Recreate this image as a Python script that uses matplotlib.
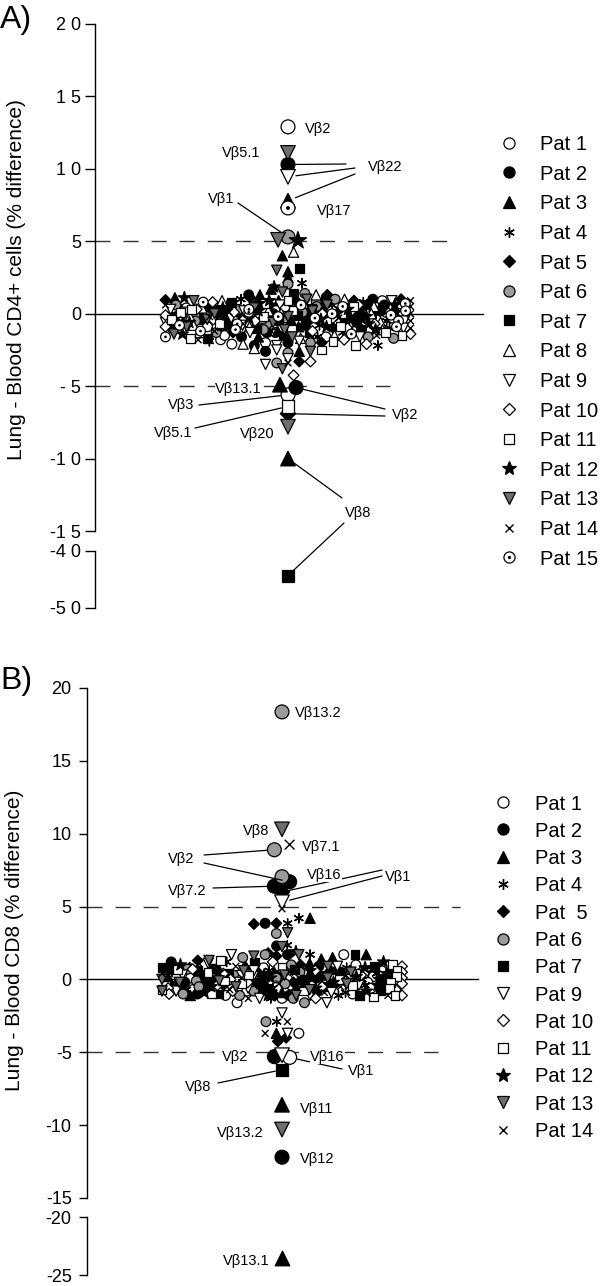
import numpy as np
import matplotlib
matplotlib.use('Agg')
import matplotlib.pyplot as plt
from matplotlib.lines import Line2D

plt.rcParams['font.family'] = ['Liberation Sans', 'DejaVu Sans']

W, H = 600, 1286

# ---- panel A: Lung - Blood CD4+ (% difference), one list per patient
cd4_p1 = [12.9, -5.6, 0.9, 0.5, 0.1, -0.3, -0.7, -1.1, -1.6, -2.0, -2.1, 0.7, -0.5, 0.3, -1.3, -1.8, -0.1, -0.9, 0.4, -1.5]
cd4_p2 = [10.3, -5.1, 1.0, 0.6, 0.2, -0.2, -0.6, -1.1, -2.0, -2.2, -2.6, 0.8, 0.0, -0.8, -1.3, 1.3, 0.4, -0.4, -1.6, -1.0]
cd4_p3 = [7.8, 4.0, 2.9, 2.5, 1.7, 1.3, -4.9, -10.0, -2.6, 0.9, 0.5, 0.1, -0.4, -0.9, -1.2, -1.6, 0.7, -0.2, 0.3, 1.1]
cd4_p4 = [2.1, -2.2, 0.8, 0.4, 0.0, -0.5, -1.0, -1.3, -1.6, 0.6, 0.2, -0.3, -0.8, 1.0, -1.2, 0.3, -0.1, 0.5, -0.6, -1.9]
cd4_p5 = [1.3, 1.0, 0.9, -6.9, -3.3, -2.0, 0.8, 0.5, 0.2, -0.2, -0.5, -1.0, 1.1, 0.6, 0.0, -0.4, -0.8, 0.3, -1.3, 0.95]
cd4_p6 = [5.3, 2.05, 1.4, 1.0, 0.8, -1.7, -1.6, -2.0, -2.7, -3.4, 0.5, 0.1, -0.3, -0.7, -1.1, 0.3, -0.1, -0.5, 0.6, -1.3]
cd4_p7 = [-44.3, 3.1, 1.4, 1.0, 0.6, 0.1, -0.3, -0.7, -1.3, -1.5, 0.4, -0.1, -0.5, 0.8, -1.0, 0.2, -0.8, 0.5, -0.2, -1.7]
cd4_p8 = [4.25, 1.3, 1.0, 0.5, 0.0, -0.6, -1.1, -1.5, -1.7, -2.1, -2.4, 0.7, 0.2, -0.3, -0.9, 0.9, -0.2, 0.4, -0.8, -1.3]
cd4_p9 = [9.45, 0.9, 0.4, 0.0, -0.5, -1.0, -1.6, -1.9, -2.2, -2.5, -3.1, -3.5, 0.6, 0.2, -0.3, -0.8, 0.1, -1.3, 0.3, -0.6]
cd4_p10 = [-3.3, -4.25, -2.1, -1.8, -1.4, -0.7, 0.2, 0.6, -0.3, 0.0, -1.0, 0.4, -1.2, -0.5, 0.1, 0.8, -0.4, 0.3, -0.1, -0.9]
cd4_p11 = [-6.4, -2.5, -2.2, -1.9, -1.5, -1.3, 0.9, 0.5, 0.0, -0.5, -0.9, 0.2, -0.2, -1.1, 0.7, -0.7, 0.1, 0.3, -0.4, -1.7]
cd4_p12 = [5.05, 1.85, 0.6, 0.1, -0.2, -0.7, -1.1, 0.3, 0.0, -0.4, 0.9, -0.9, 0.2, -0.3, 0.7, -0.1, 0.4, -0.6, 1.1, -1.4]
cd4_p13 = [11.1, 5.1, 3.0, 1.5, 1.0, -3.8, -2.6, -7.8, -1.6, 0.6, 0.2, -0.2, -0.6, -1.1, 0.4, 0.0, -0.4, 0.9, -0.9, -1.4]
cd4_p14 = [0.9, 0.5, 0.0, -0.5, -1.0, -1.5, -3.4, -0.3, 0.3, -0.8, 0.7, -0.1, 0.2, -0.7, 0.1, -0.2, -1.2, -0.4, 0.6, -1.8]
cd4_p15 = [7.3, 0.7, 0.2, -0.1, -0.5, -0.9, -1.4, 0.5, 0.0, -0.3, 0.6, -0.2, 0.1, -0.7, 0.3, -1.1, 0.8, -1.2, -0.8, -1.6]

cd4_pats = [1, 2, 3, 4, 5, 6, 7, 8, 9, 10, 11, 12, 13, 14, 15]
cd4_names = ['Pat 1', 'Pat 2', 'Pat 3', 'Pat 4', 'Pat 5', 'Pat 6', 'Pat 7', 'Pat 8',
             'Pat 9', 'Pat 10', 'Pat 11', 'Pat 12', 'Pat 13', 'Pat 14', 'Pat 15']
cd4_values = [cd4_p1, cd4_p2, cd4_p3, cd4_p4, cd4_p5, cd4_p6, cd4_p7, cd4_p8,
              cd4_p9, cd4_p10, cd4_p11, cd4_p12, cd4_p13, cd4_p14, cd4_p15]

# ---- panel B: Lung - Blood CD8 (% difference)
cd8_p1 = [-5.35, -3.7, 1.7, 1.0, 0.6, 0.2, -0.2, -0.6, -1.0, -1.3, 0.4, 0.0, -0.4, 0.8, -0.8, 0.3, -1.1, 0.1, -0.7, -1.6]
cd8_p2 = [6.7, 6.4, 3.85, 2.3, 1.7, -5.3, -12.2, 0.9, 0.5, 0.1, -0.3, -0.8, -1.1, 0.3, -0.1, -0.5, 0.7, -0.2, 1.2, -1.0]
cd8_p3 = [4.2, 1.7, 1.5, 1.4, -3.7, -8.6, -23.5, 1.1, 0.7, 0.3, 0.0, -0.4, -0.9, 0.5, 1.0, -0.2, 0.9, -0.6, 0.2, -1.1]
cd8_p4 = [4.2, 3.85, 2.35, 1.7, -2.9, 0.8, 0.4, 0.0, -0.4, -0.9, -1.1, 0.2, -0.2, 0.6, -0.6, 1.2, -1.3, 0.3, -0.7, 0.5]
cd8_p5 = [6.0, 3.85, 3.8, 1.8, 1.6, -4.0, -4.25, 1.0, 0.6, 0.2, -0.2, -0.7, -1.1, -0.9, 0.4, 0.0, -0.4, 0.8, -0.5, 1.3]
cd8_p6 = [18.36, 8.9, 7.05, 3.15, 1.7, 1.5, -2.9, -1.6, -1.3, 1.0, 0.5, 0.1, -0.3, -0.8, -1.1, 0.3, -0.1, -0.5, 0.7, -1.0]
cd8_p7 = [-6.2, 1.7, 0.9, 0.5, 0.1, -0.3, -0.8, -1.1, 0.3, 0.0, -0.5, 0.7, -0.2, 1.2, -0.6, 0.4, -1.0, 0.6, -0.4, 0.8]
cd8_p9 = [5.3, -5.2, -3.7, -2.3, -1.6, 1.7, 0.9, 0.4, 0.0, -0.4, -0.9, -1.1, 0.2, -0.2, 0.6, -0.6, 1.1, -1.3, 0.3, -0.8]
cd8_p10 = [0.9, 0.5, 0.1, -0.3, -0.7, -1.1, -1.3, 0.3, -0.1, 0.6, -0.5, 1.2, -0.2, 0.0, -0.8, 0.4, -0.4, 0.7, -0.6, -1.0]
cd8_p11 = [1.0, 0.6, 0.2, -0.2, -0.6, -1.1, -1.2, 0.4, 0.0, -0.4, 0.8, -0.8, 1.3, -0.1, 0.3, -0.3, 0.5, -1.0, 0.7, -0.7]
cd8_p12 = [1.9, 1.2, 0.8, 0.4, 0.0, -0.4, -0.8, 0.2, -0.2, 0.6, -0.6, 0.1, -1.1, 0.3, -0.3, 0.5, -0.5, 1.0, -0.9, 0.7]
cd8_p13 = [10.3, 3.2, 2.25, 1.7, 1.6, -10.3, 0.9, 0.5, 0.1, -0.3, -0.7, -1.1, 0.3, -0.1, 0.6, -0.5, 1.3, -0.2, 0.0, -0.8]
cd8_p14 = [9.25, 4.85, -2.9, -2.9, -3.7, -1.1, 0.7, 0.3, -0.1, -0.5, -0.9, 0.5, 0.1, -0.3, 0.9, -0.7, 1.1, -0.2, -1.3, 0.4]

cd8_pats = [1, 2, 3, 4, 5, 6, 7, 9, 10, 11, 12, 13, 14]
cd8_names = ['Pat 1', 'Pat 2', 'Pat 3', 'Pat 4', 'Pat  5', 'Pat 6', 'Pat 7',
             'Pat 9', 'Pat 10', 'Pat 11', 'Pat 12', 'Pat 13', 'Pat 14']
cd8_values = [cd8_p1, cd8_p2, cd8_p3, cd8_p4, cd8_p5, cd8_p6, cd8_p7,
              cd8_p9, cd8_p10, cd8_p11, cd8_p12, cd8_p13, cd8_p14]

# labelled Vbeta families: (text, text x/y in px, [(patient, value, line start px)])
cd4_notes = [
    ('Vβ2', 305, 128, []),
    ('Vβ5.1', 222, 152, []),
    ('Vβ22', 368, 166, [(2, 10.3, (346, 164)), (9, 9.45, (355, 168)), (3, 7.8, (355, 174))]),
    ('Vβ17', 317, 209, []),
    ('Vβ1', 208, 197, [(6, 5.3, (238, 203))]),
    ('Vβ13.1', 215, 387, []),
    ('Vβ3', 168, 404, [(1, -5.6, (199, 405))]),
    ('Vβ5.1', 154, 432, [(11, -6.4, (195, 428))]),
    ('Vβ20', 240, 433, []),
    ('Vβ2', 392, 413, [(2, -5.1, (385, 409)), (5, -6.9, (385, 416))]),
    ('Vβ8', 345, 511, [(3, -10.0, (342, 498)), (7, -44.3, (344, 523))]),
]
cd8_notes = [
    ('Vβ13.2', 295, 712, []),
    ('Vβ8', 243, 829, []),
    ('Vβ7.1', 302, 845, []),
    ('Vβ2', 168, 858, [(6, 8.9, (204, 855)), (2, 6.7, (204, 863))]),
    ('Vβ7.2', 168, 889, [(2, 6.4, (213, 888))]),
    ('Vβ16', 307, 873, []),
    ('Vβ1', 385, 875, [(5, 6.0, (382, 870)), (9, 5.3, (382, 876))]),
    ('Vβ2', 222, 1056, []),
    ('Vβ16', 310, 1055, []),
    ('Vβ1', 348, 1069, [(1, -5.35, (342, 1069))]),
    ('Vβ8', 185, 1085, [(7, -6.2, (218, 1083))]),
    ('Vβ11', 300, 1108, []),
    ('Vβ13.2', 217, 1132, []),
    ('Vβ12', 300, 1157, []),
    ('Vβ13.1', 223, 1260, []),
]

GREY6 = '#9b9b9b'
GREY13 = '#6e6e6e'
# marker, face colour, size factor
STYLE = {
    1: ('o', 'white', 1.0), 2: ('o', 'black', 1.0), 3: ('^', 'black', 1.05),
    4: ((6, 2, 0), None, 0.95), 5: ('D', 'black', 0.78), 6: ('o', GREY6, 1.0),
    7: ('s', 'black', 0.9), 8: ('^', 'white', 1.05), 9: ('v', 'white', 1.05),
    10: ('D', 'white', 0.78), 11: ('s', 'white', 0.9), 12: ('*', 'black', 1.3),
    13: ('v', GREY13, 1.05), 14: ('x', None, 0.7), 15: ('o', 'white', 1.0),
}
SMALL, BIG = 7.0, 10.0


def rect(left, top, width, height):
    return [left / W, 1 - (top + height) / H, width / W, height / H]


def columns(vals, diam, ranks, binh=0.5, maxw=250, gap=1.1):
    # column scatter: values in one bin are spread side by side,
    # squeezed when a row would get wider than maxw
    vals = np.asarray(vals, float)
    bins = np.round(vals / binh).astype(int)
    xs = np.zeros(len(vals))
    for b in np.unique(bins):
        idx = sorted(np.where(bins == b)[0], key=lambda i: ranks[i], reverse=True)
        n = len(idx)
        if n < 2:
            continue
        step = min(max(diam[i] for i in idx) * gap, maxw / (n - 1))
        for k, i in enumerate(idx):
            xs[i] = (k - (n - 1) / 2) * step
    return xs


def style_axis(ax, ticks, labels, ylim, tlen, tpad):
    ax.set_ylim(*ylim)
    for s in ['top', 'right', 'bottom']:
        ax.spines[s].set_visible(False)
    ax.spines['left'].set_linewidth(1.0)
    ax.set_xticks([])
    ax.set_yticks(ticks)
    ax.set_yticklabels(labels, fontsize=13)
    ax.tick_params(axis='y', length=tlen, width=1.0, pad=tpad)
    ax.patch.set_visible(False)


def panel(ax, ax_low, pats, values, split, centre, maxw, notes):
    flat = []
    for p, vals in zip(pats, values):
        for j, v in enumerate(vals):
            ms = (BIG if abs(v) >= 4.9 else SMALL) * STYLE[p][2]
            flat.append((p, v, ms, (j, p)))
    main = [f for f in flat if f[1] > split]
    xs = columns([f[1] for f in main], [f[2] * 100 / 72 for f in main],
                 [f[3] for f in main], maxw=maxw)
    where = {}
    for f, x in zip(main, xs):
        where[(f[0], f[1])] = (ax, centre + x, f[1], f[2])
    for f in flat:
        if f[1] <= split:
            where[(f[0], f[1])] = (ax_low, centre, f[1], f[2])

    for p in pats:
        mk, fc, _ = STYLE[p]
        for a in (ax, ax_low):
            pts = [w for k, w in where.items() if k[0] == p and w[0] is a]
            if not pts:
                continue
            x = [w[1] for w in pts]
            y = [w[2] for w in pts]
            s = [w[3] ** 2 for w in pts]
            if fc is None:
                a.scatter(x, y, s=s, marker=mk, color='black', linewidths=1.0, zorder=3, clip_on=False)
            else:
                a.scatter(x, y, s=s, marker=mk, facecolors=fc, edgecolors='black',
                          linewidths=0.9, zorder=3, clip_on=False)
            if p == 15:
                a.scatter(x, y, s=[(w[3] * 0.28) ** 2 for w in pts], marker='o',
                          color='black', linewidths=0, zorder=4, clip_on=False)

    for text, tx, ty, targets in notes:
        fig.text(tx / W, 1 - (ty + 1.5) / H, text, ha='left', va='center', fontsize=10.5,
                 bbox=dict(fc='white', ec='none', pad=0.3), zorder=5)
        for p, v, (lx, ly) in targets:
            a, x, y, ms = where[(p, v)]
            a.annotate('', xy=(x, y), xycoords=a.transData,
                       xytext=(lx, H - ly), textcoords='figure pixels',
                       arrowprops=dict(arrowstyle='-', lw=0.9, color='black',
                                       shrinkA=0, shrinkB=ms * 0.55))


def legend(pats, names, mx, tx, y0, pitch):
    for i, (p, name) in enumerate(zip(pats, names)):
        yf = 1 - (y0 + i * pitch) / H
        mk, fc, f = STYLE[p]
        if fc is None:
            marks = [Line2D([mx / W], [yf], ls='none', marker=mk, color='black',
                            markersize=8 * f, markeredgewidth=1.0)]
        else:
            marks = [Line2D([mx / W], [yf], ls='none', marker=mk, markerfacecolor=fc,
                            markeredgecolor='black', markersize=8 * f, markeredgewidth=0.9)]
        if p == 15:
            marks.append(Line2D([mx / W], [yf], ls='none', marker='o', color='black',
                                markersize=2.4, markeredgewidth=0))
        for m in marks:
            m.set_transform(fig.transFigure)
            fig.add_artist(m)
        fig.text(tx / W, 1 - (y0 + i * pitch + 2) / H, name, ha='left', va='center', fontsize=14.5)


fig = plt.figure(figsize=(W / 100, H / 100), dpi=100)

# ---- A
axA = fig.add_axes(rect(95, 24, 395, 507))
axA_low = fig.add_axes(rect(95, 551, 395, 57))
for a in (axA, axA_low):
    a.set_xlim(0, 395)
style_axis(axA, [20, 15, 10, 5, 0, -5, -10, -15],
           ['2 0', '1 5', '1 0', '5', '0', '- 5', '-1 0', '-1 5'], (-15, 20), 7, 3)
style_axis(axA_low, [-40, -50], ['-4 0', '-5 0'], (-50, -40), 7, 3)
axA.plot([0, 388], [0, 0], color='black', lw=1.0, zorder=1)
axA.plot([0, 352], [5, 5], color='#333333', lw=1.0, ls=(0, (10.8, 9.4)), zorder=1)
axA.plot([0, 295], [-5, -5], color='#333333', lw=1.0, ls=(0, (10.8, 9.4)), zorder=1)
panel(axA, axA_low, cd4_pats, cd4_values, -30, 193, 245, cd4_notes)
fig.text(17 / W, 1 - 280 / H, 'Lung - Blood CD4+ cells (% difference)', rotation=90,
         ha='center', va='center', fontsize=15)
fig.text(0, 1 - 20 / H, 'A)', ha='left', va='center', fontsize=23)
legend(cd4_pats, cd4_names, 509, 540, 142.7, 29.6)

# ---- B
axB = fig.add_axes(rect(87, 688, 403, 510))
axB_low = fig.add_axes(rect(87, 1217, 403, 58))
for a in (axB, axB_low):
    a.set_xlim(0, 403)
style_axis(axB, [20, 15, 10, 5, 0, -5, -10, -15],
           ['20', '15', '10', '5', '0', '-5', '-10', '-15'], (-15, 20), 6, 5)
style_axis(axB_low, [-20, -25], ['-20', '-25'], (-25, -20), 6, 5)
axB.plot([0, 391], [0, 0], color='black', lw=1.0, zorder=1)
axB.plot([0, 373], [5, 5], color='#333333', lw=1.0, ls=(0, (10.8, 9.4)), zorder=1)
axB.plot([0, 351], [-5, -5], color='#333333', lw=1.0, ls=(0, (10.8, 9.4)), zorder=1)
panel(axB, axB_low, cd8_pats, cd8_values, -17.5, 195, 240, cd8_notes)
fig.text(15 / W, 1 - 940 / H, 'Lung - Blood CD8 (% difference)', rotation=90,
         ha='center', va='center', fontsize=15)
fig.text(0, 1 - 681 / H, 'B)', ha='left', va='center', fontsize=23)
legend(cd8_pats, cd8_names, 503, 535, 802, 27.3)

fig.savefig('out.png', dpi=100)
